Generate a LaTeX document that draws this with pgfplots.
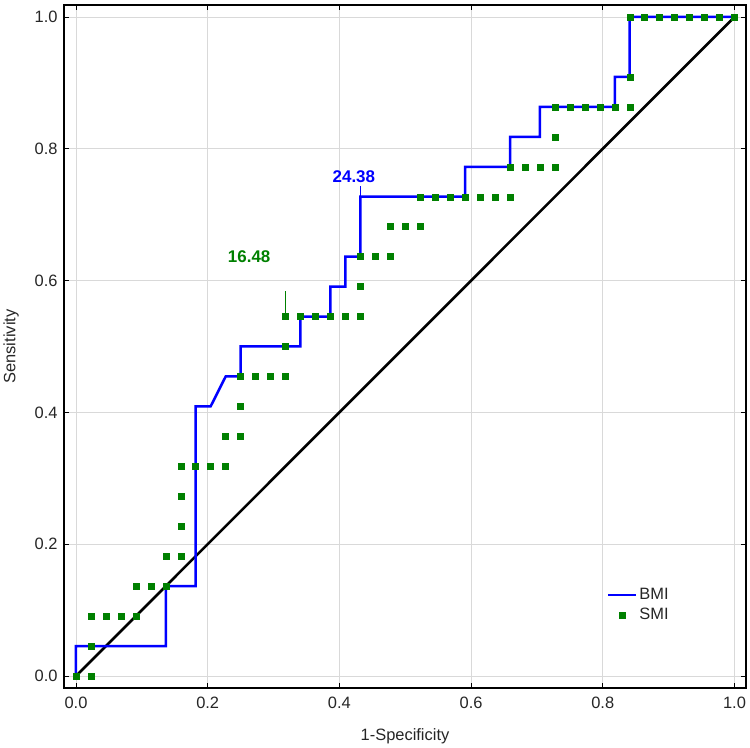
\documentclass[border=0pt]{standalone}
\usepackage{fontspec}
\setmainfont{Liberation Sans}
\usepackage{pgfplots}
\pgfplotsset{compat=1.18}
\definecolor{bmiblue}{RGB}{0,0,255}
\definecolor{smigreen}{RGB}{0,128,0}
\definecolor{gridgray}{RGB}{217,217,217}
\definecolor{ticktext}{RGB}{38,38,38}
\begin{document}
\begin{tikzpicture}
% fix picture size to the reference frame (750 x 748)
\path[use as bounding box] (-64bp,-60bp) rectangle (686bp,688bp);
\begin{axis}[
  at={(0,0)}, anchor=south west,
  scale only axis, width=682bp, height=683bp,
  xmin=-0.0182, xmax=1.0175, ymin=-0.0182, ymax=1.0182,
  xtick={0,0.2,0.4,0.6,0.8,1}, ytick={0,0.2,0.4,0.6,0.8,1},
  grid=major, major grid style={gridgray, line width=0.8bp},
  axis line style={black, line width=1.2bp},
  tick align=inside, major tick length=5bp,
  tick style={black, line width=0.8bp},
  tick label style={font=\fontsize{16.5}{18}\selectfont, text=ticktext},
  xticklabel style={yshift=-6bp},
  yticklabel style={xshift=-3bp},
  label style={font=\fontsize{16.5}{18}\selectfont, text=ticktext},
  xlabel={1-Specificity}, ylabel={Sensitivity},
  xlabel style={at={(axis description cs:0.5,-0.0703)}, anchor=center},
  ylabel style={at={(axis description cs:-0.0775,0.5)}, anchor=center},
  /pgf/number format/fixed, /pgf/number format/fixed zerofill,
  /pgf/number format/precision=1, /pgf/number format/assume math mode=true,
  legend style={draw=none, fill=none, at={(axis cs:0.806,0.108)}, anchor=west,
    font=\fontsize{16.5}{18}\selectfont, text=ticktext, inner sep=0pt, row sep=3bp},
  legend cell align=left,
  legend image code/.code={\draw[mark repeat=2,mark phase=2,#1] plot coordinates {(0bp,0bp) (14bp,0bp) (28bp,0bp)};},
]
% reference diagonal
\addplot[black, line width=2.6bp, forget plot] coordinates {(0,0) (1,1)};
% BMI
\addplot[bmiblue, line width=2.5bp] coordinates {
  (0,0) (0,0.0455) (0.1364,0.0455) (0.1364,0.1364) (0.1818,0.1364)
  (0.1818,0.4091) (0.2045,0.4091) (0.2273,0.4545) (0.25,0.4545) (0.25,0.5)
  (0.3409,0.5) (0.3409,0.5455) (0.3864,0.5455) (0.3864,0.5909) (0.4091,0.5909)
  (0.4091,0.6364) (0.4318,0.6364) (0.4318,0.7273) (0.5909,0.7273) (0.5909,0.7727)
  (0.6591,0.7727) (0.6591,0.8182) (0.7045,0.8182) (0.7045,0.8636) (0.8182,0.8636)
  (0.8182,0.9091) (0.8409,0.9091) (0.8409,1) (1,1)
};
\addlegendentry{BMI}
% SMI
\addplot[only marks, mark=square*, mark size=3bp, smigreen, mark options={draw=smigreen, fill=smigreen}] coordinates {
  (0,0) (0.0227,0) (0.0227,0.0455) (0.0227,0.0909) (0.0455,0.0909) (0.0682,0.0909)
  (0.0909,0.0909) (0.0909,0.1364) (0.1136,0.1364) (0.1364,0.1364) (0.1364,0.1818)
  (0.1591,0.1818) (0.1591,0.2273) (0.1591,0.2727) (0.1591,0.3182) (0.1818,0.3182)
  (0.2045,0.3182) (0.2273,0.3182) (0.2273,0.3636) (0.25,0.3636) (0.25,0.4091)
  (0.25,0.4545) (0.2727,0.4545) (0.2955,0.4545) (0.3182,0.4545) (0.3182,0.5)
  (0.3182,0.5455) (0.3409,0.5455) (0.3636,0.5455) (0.3864,0.5455) (0.4091,0.5455)
  (0.4318,0.5455) (0.4318,0.5909) (0.4318,0.6364) (0.4545,0.6364) (0.4773,0.6364)
  (0.4773,0.6818) (0.5,0.6818) (0.5227,0.6818) (0.5227,0.7273) (0.5455,0.7273)
  (0.5682,0.7273) (0.5909,0.7273) (0.6136,0.7273) (0.6364,0.7273) (0.6591,0.7273)
  (0.6591,0.7727) (0.6818,0.7727) (0.7045,0.7727) (0.7273,0.7727) (0.7273,0.8182)
  (0.7273,0.8636) (0.75,0.8636) (0.7727,0.8636) (0.7955,0.8636) (0.8182,0.8636)
  (0.8409,0.8636) (0.8409,0.9091) (0.8409,1) (0.8636,1) (0.8864,1) (0.9091,1)
  (0.9318,1) (0.9545,1) (0.9773,1) (1,1)
};
\addlegendentry{SMI}
% cut-off annotations
\node[text=bmiblue, font=\bfseries\fontsize{17}{19}\selectfont] at (axis cs:0.422,0.757) {24.38};
\draw[bmiblue, line width=0.8bp] (axis cs:0.4318,0.7273) -- (axis cs:0.4318,0.743);
\node[text=smigreen, font=\bfseries\fontsize{17}{19}\selectfont] at (axis cs:0.263,0.636) {16.48};
\draw[smigreen, line width=0.8bp] (axis cs:0.3182,0.548) -- (axis cs:0.3182,0.584);
\end{axis}
\end{tikzpicture}
\end{document}
